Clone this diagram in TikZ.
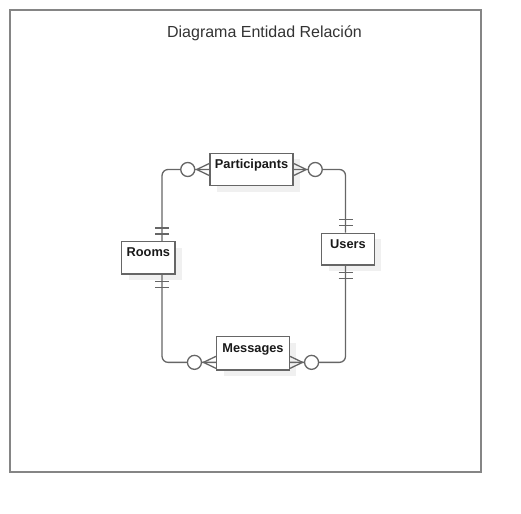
\documentclass[tikz,border=0pt]{standalone}
\usepackage{fontspec}
\setmainfont{Liberation Sans}
\usetikzlibrary{calc,shadows}
\definecolor{framegray}{HTML}{858585}
\definecolor{linegray}{HTML}{666666}
\definecolor{titlegray}{HTML}{333333}
\tikzset{
  frame/.style={draw=framegray,line width=2pt},
  conn/.style={draw=linegray,line width=1.3pt},
  entity/.style={draw=linegray,line width=1.5pt,fill=white,inner sep=0pt,
    font=\bfseries\fontsize{12.8}{14}\selectfont,text=black!90,
    text height=9.2pt,text depth=11pt,
    drop shadow={shadow xshift=7pt,shadow yshift=-6pt,fill=black!6,opacity=1}},
  erone/.pic={\draw[conn] (-7,-7) -- (-7,7) (-13,-7) -- (-13,7);},
  ermany/.pic={\draw[conn] (0,-6) -- (-12.5,0) -- (0,6);
    \draw[conn,fill=white] (-21.5,0) circle[radius=7pt];}
}
\begin{document}
\begin{tikzpicture}[x=1pt,y=-1pt]
\useasboundingbox (0,0) rectangle (521,513);
\draw[frame] (10,10) rectangle (481,472);
\node[anchor=base,text=titlegray,font=\fontsize{16}{19}\selectfont] (title) at (264.5,37.3) {Diagrama Entidad Relación};
\node[entity,minimum width=83pt,minimum height=32.4pt] (P) at (251.5,169.5) {Participants};
\node[entity,minimum width=53.3pt,minimum height=32.3pt] (R) at (148.35,257.85) {Rooms};
\node[entity,minimum width=52.6pt,minimum height=31.7pt] (U) at (348,249.15) {Users};
\node[entity,minimum width=72.6pt,minimum height=33.3pt] (M) at (253,353.35) {Messages};
% connectors
\coordinate (Rn) at ($(R.north)+(13.7,0)$);
\coordinate (Rs) at ($(R.south)+(13.7,0)$);
\coordinate (Un) at ($(U.north)+(-2.5,0)$);
\coordinate (Us) at ($(U.south)+(-2.5,0)$);
\coordinate (Mw) at ($(M.west)+(0,9)$);
\coordinate (Me) at ($(M.east)+(0,9)$);
\draw[conn,rounded corners=6pt] (Rn) |- (P.west);
\draw[conn,rounded corners=6pt] (Un) |- (P.east);
\draw[conn,rounded corners=6pt] (Rs) |- (Mw);
\draw[conn,rounded corners=6pt] (Us) |- (Me);
% end markers
\pic[rotate=-90] at (Rn) {erone};
\pic[rotate=90] at (Rs) {erone};
\pic[rotate=-90] at (Un) {erone};
\pic[rotate=90] at (Us) {erone};
\pic at (P.west) {ermany};
\pic[rotate=180] at (P.east) {ermany};
\pic at (Mw) {ermany};
\pic[rotate=180] at (Me) {ermany};
\end{tikzpicture}
\end{document}
